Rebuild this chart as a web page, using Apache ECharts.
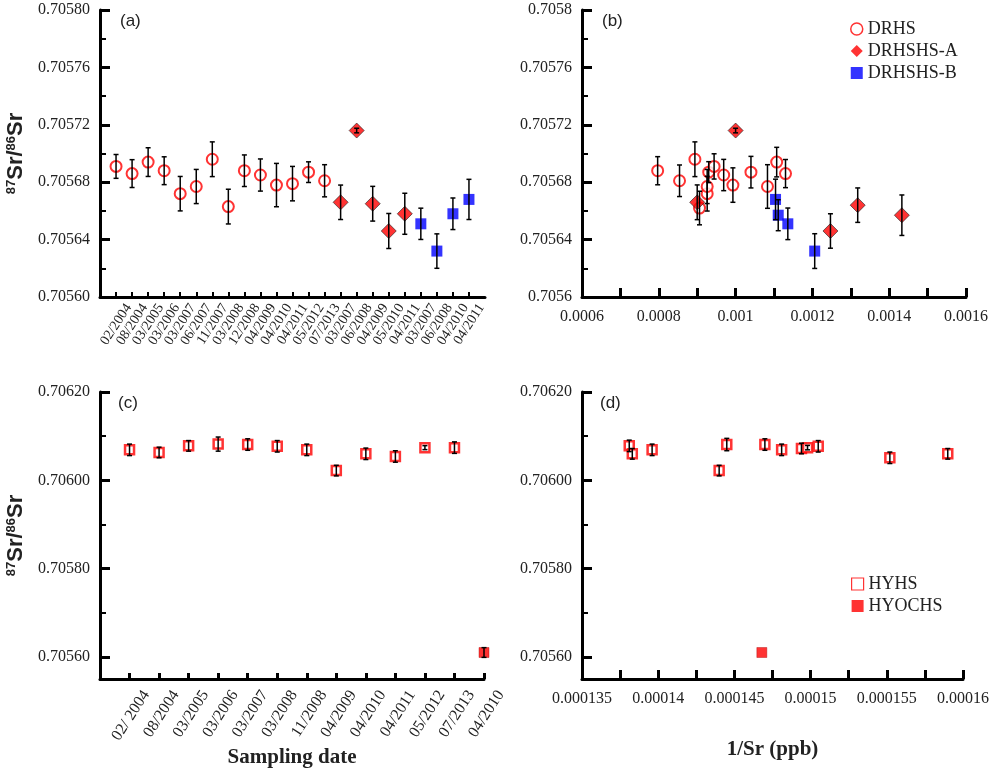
<!DOCTYPE html>
<html><head><meta charset="utf-8">
<script src="https://cdn.jsdelivr.net/npm/echarts@6/dist/echarts.min.js"></script>
<style>html,body{margin:0;padding:0;background:#fff}#c{width:992px;height:771px}</style>
</head><body><div id="c"></div><script>
// ---------- Panel (a): 87Sr/86Sr vs sampling date ----------
const datesA = ['02/2004','08/2004','03/2005','03/2006','03/2007','06/2007','11/2007','03/2008','12/2008','04/2009','04/2010','04/2011','05/2012','07/2013','03/2007','06/2008','04/2009','05/2010','04/2011','03/2007','06/2008','04/2010','04/2011'];
const drhsRatioA = [0.705691,0.705686,0.705694,0.705688,0.705672,0.705677,0.705696,0.705663,0.705688,0.705685,0.705678,0.705679,0.705687,0.705681];
const drhsErrA   = [0.0000083,0.0000097,0.0000100,0.0000097,0.0000120,0.0000119,0.0000121,0.0000121,0.0000110,0.0000112,0.0000151,0.0000120,0.0000072,0.0000112];
const shsARatioA = [0.705666,0.705716,0.705665,0.705646,0.705658];
const shsAErrA   = [0.0000120,0.0000016,0.0000121,0.0000122,0.0000143];
const shsBRatioA = [0.705651,0.705632,0.705658,0.705668];
const shsBErrA   = [0.0000109,0.0000120,0.0000110,0.0000140];

// ---------- Panel (b): 87Sr/86Sr vs 1/Sr ----------
const drhsInvSr  = [0.000797,0.000854,0.000894,0.000906,0.000926,0.000926,0.000930,0.000944,0.000969,0.000993,0.001040,0.001083,0.001107,0.001130];
const drhsRatioB = [0.705688,0.705681,0.705696,0.705662,0.705672,0.705677,0.705687,0.705691,0.705685,0.705678,0.705687,0.705677,0.705694,0.705686];
const drhsErrB   = [0.0000098,0.0000110,0.0000121,0.0000117,0.0000121,0.0000119,0.0000073,0.0000088,0.0000109,0.0000120,0.0000110,0.0000152,0.0000103,0.0000098];
const shsAInvSr  = [0.000900,0.001000,0.001247,0.001318,0.001433];
const shsARatioB = [0.705666,0.705716,0.705646,0.705664,0.705657];
const shsAErrB   = [0.0000121,0.0000016,0.0000120,0.0000120,0.0000141];
const shsBInvSr  = [0.001104,0.001111,0.001136,0.001206];
const shsBRatioB = [0.705668,0.705657,0.705651,0.705632];
const shsBErrB   = [0.0000141,0.0000108,0.0000110,0.0000121];

// ---------- Panel (c): Hoyo hot springs vs sampling date ----------
const datesC = ['02/ 2004','08/2004','03/2005','03/2006','03/2007','03/2008','11/2008','04/2009','04/2010','04/2011','05/2012','07/2013','04/2010'];
const hyhsRatioC  = [0.706069,0.706063,0.706078,0.706082,0.706081,0.706077,0.706069,0.706022,0.706060,0.706054,0.706074,0.706074];
const hyhsErrC    = [0.0000130,0.0000120,0.0000120,0.0000160,0.0000130,0.0000130,0.0000130,0.0000120,0.0000130,0.0000130,0.0000045,0.0000130];
const hyochsRatioC = [0.705610];
const hyochsErrC   = [0.0000110];

// ---------- Panel (d): Hoyo hot springs vs 1/Sr ----------
const hyhsInvSr  = [0.0001381,0.0001383,0.0001396,0.0001440,0.0001445,0.0001470,0.0001481,0.0001494,0.0001498,0.0001505,0.0001552,0.0001590];
const hyhsRatioD = [0.706078,0.706060,0.706069,0.706022,0.706081,0.706081,0.706069,0.706072,0.706074,0.706077,0.706051,0.706060];
const hyhsErrD   = [0.0000130,0.0000120,0.0000130,0.0000120,0.0000140,0.0000130,0.0000130,0.0000120,0.0000050,0.0000130,0.0000130,0.0000120];
const hyochsInvSr  = [0.0001468];
const hyochsRatioD = [0.705610];

// tick label sets
const yTicksC = [0.7056, 0.7058, 0.7060, 0.7062];
const yMinorC = [0.7057, 0.7059, 0.7061];

const SERIF = 'Liberation Serif', SANS = 'Liberation Sans';
const TXT = '#222';
const idxA = datesA.map((_, i) => i + 1);
const idxC = datesC.map((_, i) => i + 1);
// label positions for (a): include empty end slots so the axis end-label logic never drops a date
const labelPosA = [0].concat(idxA, [datesA.length + 1]);

function errRender(cap) {
  return function (params, api) {
    const x = api.value(0), y = api.value(1), e = api.value(2);
    const p1 = api.coord([x, y + e]), p2 = api.coord([x, y - e]);
    const st = { stroke: '#000', lineWidth: 1.5 };
    return { type: 'group', children: [
      { type: 'line', shape: { x1: p1[0], y1: p1[1], x2: p2[0], y2: p2[1] }, style: st },
      { type: 'line', shape: { x1: p1[0] - cap, y1: p1[1], x2: p1[0] + cap, y2: p1[1] }, style: st },
      { type: 'line', shape: { x1: p2[0] - cap, y1: p2[1], x2: p2[0] + cap, y2: p2[1] }, style: st }
    ]};
  };
}
function errSeries(xi, yi, xs, ys, es, cap) {
  return { type: 'custom', xAxisIndex: xi, yAxisIndex: yi, z: 5, silent: true,
    renderItem: errRender(cap), encode: { x: 0, y: 1 },
    data: ys.map((y, i) => [xs[i], y, es[i]]) };
}
const circleStyle = { color: '#fff', borderColor: '#ff0000', borderWidth: 2 };
const diamondStyle = { color: '#ff0000', borderColor: '#222', borderWidth: 0.8 };
const blueStyle = { color: '#0000ff' };
const openSq = { color: '#fff', borderColor: '#ff0000', borderWidth: 2.5 };
const fillSq = { color: '#ff0000', borderColor: '#a00', borderWidth: 0.5 };

function scat(name, xi, yi, xs, ys, symbol, size, style) {
  return { name, type: 'scatter', xAxisIndex: xi, yAxisIndex: yi, symbol, symbolSize: size,
    itemStyle: style, z: 3, data: ys.map((y, i) => [xs[i], y]) };
}

const yNameRich = {
  b: { fontSize: 22, fontWeight: 'bold', fontFamily: SANS, color: TXT },
  s: { fontSize: 13, fontWeight: 'bold', fontFamily: SANS, color: TXT, verticalAlign: 'top' }
};
const yNameTxt = '{s|87}{b|Sr/}{s|86}{b|Sr}';

const axisLine = { show: true, lineStyle: { color: '#000', width: 3 } };
const fmt = v => String(parseFloat(v.toFixed(8)));

const option = {
  animation: false,
  backgroundColor: '#fff',
  grid: [
    { left: 100, top: 10, width: 385, height: 287 },
    { left: 582, top: 10, width: 384, height: 287 },
    { left: 100, top: 392, width: 384, height: 287 },
    { left: 582, top: 392, width: 384, height: 287 }
  ],
  xAxis: [
    { gridIndex: 0, type: 'value', min: 0, max: 24, interval: 1, axisLine,
      splitLine: { show: false },
      axisTick: { inside: true, length: 5, lineStyle: { color: '#000', width: 2 }, customValues: idxA },
      axisLabel: { customValues: labelPosA, formatter: v => datesA[Math.round(v) - 1] || '',
        rotate: 57, fontSize: 14, fontFamily: SERIF, color: TXT, margin: 0,
        verticalAlign: 'top', padding: [8, 0, 0, 0] } },
    { gridIndex: 1, type: 'value', min: 0.0006, max: 0.0016, interval: 0.0001, axisLine,
      splitLine: { show: false },
      axisTick: { inside: true, length: 9, lineStyle: { color: '#000', width: 3 } },
      axisLabel: { formatter: v => (Math.round(v / 0.0001) % 2 === 0 ? fmt(v) : ''),
        fontSize: 16, fontFamily: SERIF, color: TXT, margin: 12 } },
    { gridIndex: 2, type: 'value', min: 0, max: 13, interval: 1, axisLine,
      splitLine: { show: false },
      name: 'Sampling date', nameLocation: 'middle', nameGap: 68,
      nameTextStyle: { fontSize: 21, fontWeight: 'bold', fontFamily: SERIF, color: TXT },
      axisTick: { inside: true, length: 6, lineStyle: { color: '#000', width: 3 }, customValues: idxC },
      axisLabel: { customValues: idxC, formatter: v => datesC[Math.round(v) - 1] || '',
        showMinLabel: true, showMaxLabel: true,
        rotate: 57, fontSize: 16, fontFamily: SERIF, color: TXT, margin: 2,
        verticalAlign: 'top', padding: [12, 0, 0, 0] } },
    { gridIndex: 3, type: 'value', min: 0.000135, max: 0.00016, interval: 0.0000025, axisLine,
      splitLine: { show: false },
      name: '1/Sr (ppb)', nameLocation: 'middle', nameGap: 60,
      nameTextStyle: { fontSize: 21, fontWeight: 'bold', fontFamily: SERIF, color: TXT },
      axisTick: { inside: true, length: 9, lineStyle: { color: '#000', width: 3 } },
      axisLabel: { formatter: v => (Math.round(v / 0.0000025) % 2 === 0 ? fmt(v) : ''),
        fontSize: 16, fontFamily: SERIF, color: TXT, margin: 12 } }
  ],
  yAxis: [
    { gridIndex: 0, type: 'value', min: 0.7056, max: 0.7058, interval: 0.00004, axisLine,
      splitLine: { show: false },
      name: yNameTxt, nameLocation: 'middle', nameRotate: 90, nameGap: 73,
      nameTextStyle: { rich: yNameRich },
      axisTick: { inside: true, length: 10, lineStyle: { color: '#000', width: 3 } },
      minorTick: { show: true, splitNumber: 2, length: 6, lineStyle: { color: '#000', width: 2 } },
      axisLabel: { formatter: v => v.toFixed(5), fontSize: 16, fontFamily: SERIF, color: TXT, margin: 10 } },
    { gridIndex: 1, type: 'value', min: 0.7056, max: 0.7058, interval: 0.00004, axisLine,
      splitLine: { show: false },
      axisTick: { inside: true, length: 10, lineStyle: { color: '#000', width: 3 } },
      minorTick: { show: true, splitNumber: 2, length: 6, lineStyle: { color: '#000', width: 2 } },
      axisLabel: { formatter: fmt, fontSize: 16, fontFamily: SERIF, color: TXT, margin: 10 } },
    { gridIndex: 2, type: 'value', position: 'left', min: 0.70555, max: 0.7062, axisLine,
      splitLine: { show: false },
      name: yNameTxt, nameLocation: 'middle', nameRotate: 90, nameGap: 73,
      nameTextStyle: { rich: yNameRich },
      axisTick: { inside: true, length: 10, lineStyle: { color: '#000', width: 3 }, customValues: yTicksC },
      axisLabel: { customValues: yTicksC, formatter: v => v.toFixed(5), fontSize: 16, fontFamily: SERIF, color: TXT, margin: 10 } },
    { gridIndex: 2, type: 'value', position: 'left', offset: 0, min: 0.70555, max: 0.7062, axisLine: { show: false },
      splitLine: { show: false }, axisLabel: { show: false },
      axisTick: { inside: true, length: 6, lineStyle: { color: '#000', width: 2 }, customValues: yMinorC } },
    { gridIndex: 3, type: 'value', position: 'left', min: 0.70555, max: 0.7062, axisLine,
      splitLine: { show: false },
      axisTick: { inside: true, length: 10, lineStyle: { color: '#000', width: 3 }, customValues: yTicksC },
      axisLabel: { customValues: yTicksC, formatter: v => v.toFixed(5), fontSize: 16, fontFamily: SERIF, color: TXT, margin: 10 } },
    { gridIndex: 3, type: 'value', position: 'left', offset: 0, min: 0.70555, max: 0.7062, axisLine: { show: false },
      splitLine: { show: false }, axisLabel: { show: false },
      axisTick: { inside: true, length: 6, lineStyle: { color: '#000', width: 2 }, customValues: yMinorC } }
  ],
  legend: [
    { orient: 'vertical', left: 845, top: 15, itemWidth: 12, itemHeight: 12, itemGap: 4,
      textStyle: { fontSize: 18, fontFamily: SERIF, color: TXT },
      data: [
        { name: 'DRHS', icon: 'circle', itemStyle: { color: '#fff', borderColor: '#ff0000', borderWidth: 1.5 } },
        { name: 'DRHSHS-A', icon: 'diamond', itemStyle: { color: '#ff0000', borderWidth: 0 } },
        { name: 'DRHSHS-B', icon: 'rect', itemStyle: { color: '#0000ff', borderWidth: 0 } }
      ] },
    { orient: 'vertical', left: 846, top: 570, itemWidth: 12, itemHeight: 12, itemGap: 4,
      textStyle: { fontSize: 18, fontFamily: SERIF, color: TXT },
      data: [
        { name: 'HYHS', icon: 'rect', itemStyle: { color: '#fff', borderColor: '#ff0000', borderWidth: 1.2 } },
        { name: 'HYOCHS', icon: 'rect', itemStyle: { color: '#ff0000', borderWidth: 0 } }
      ] }
  ],
  graphic: [
    { type: 'text', left: 120, top: 13, style: { text: '(a)', fontSize: 17, fontFamily: SANS, fill: TXT } },
    { type: 'text', left: 602, top: 13, style: { text: '(b)', fontSize: 17, fontFamily: SANS, fill: TXT } },
    { type: 'text', left: 118, top: 395, style: { text: '(c)', fontSize: 17, fontFamily: SANS, fill: TXT } },
    { type: 'text', left: 600, top: 395, style: { text: '(d)', fontSize: 17, fontFamily: SANS, fill: TXT } }
  ],
  series: [
    // (a)
    scat('DRHS', 0, 0, idxA.slice(0, 14), drhsRatioA, 'circle', 11, circleStyle),
    scat('DRHSHS-A', 0, 0, idxA.slice(14, 19), shsARatioA, 'diamond', 15, diamondStyle),
    scat('DRHSHS-B', 0, 0, idxA.slice(19, 23), shsBRatioA, 'rect', 11, blueStyle),
    errSeries(0, 0, idxA.slice(0, 14), drhsRatioA, drhsErrA, 2.5),
    errSeries(0, 0, idxA.slice(14, 19), shsARatioA, shsAErrA, 2.5),
    errSeries(0, 0, idxA.slice(19, 23), shsBRatioA, shsBErrA, 2.5),
    // (b)
    scat('DRHS', 1, 1, drhsInvSr, drhsRatioB, 'circle', 11, circleStyle),
    scat('DRHSHS-A', 1, 1, shsAInvSr, shsARatioB, 'diamond', 15, diamondStyle),
    scat('DRHSHS-B', 1, 1, shsBInvSr, shsBRatioB, 'rect', 11, blueStyle),
    errSeries(1, 1, drhsInvSr, drhsRatioB, drhsErrB, 2.5),
    errSeries(1, 1, shsAInvSr, shsARatioB, shsAErrB, 2.5),
    errSeries(1, 1, shsBInvSr, shsBRatioB, shsBErrB, 2.5),
    // (c)
    scat('HYHS', 2, 2, idxC.slice(0, 12), hyhsRatioC, 'rect', 9, openSq),
    scat('HYOCHS', 2, 2, idxC.slice(12), hyochsRatioC, 'rect', 10, fillSq),
    errSeries(2, 2, idxC.slice(0, 12), hyhsRatioC, hyhsErrC, 2.5),
    errSeries(2, 2, idxC.slice(12), hyochsRatioC, hyochsErrC, 2.5),
    // (d)
    scat('HYHS', 3, 4, hyhsInvSr, hyhsRatioD, 'rect', 9, openSq),
    scat('HYOCHS', 3, 4, hyochsInvSr, hyochsRatioD, 'rect', 10, fillSq),
    errSeries(3, 4, hyhsInvSr, hyhsRatioD, hyhsErrD, 2.5)
  ]
};
const chart = echarts.init(document.getElementById('c'), null, { renderer: 'canvas' });
chart.setOption(option);
</script></body></html>
